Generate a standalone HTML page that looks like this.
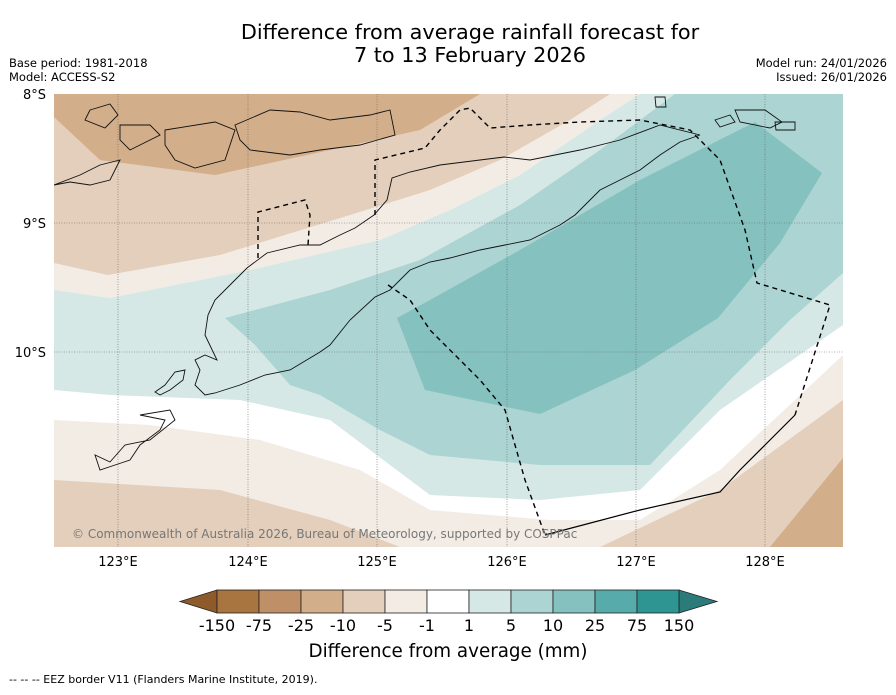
<!DOCTYPE html>
<html><head><meta charset="utf-8"><style>
body{margin:0;background:#fff;font-family:"Liberation Sans","DejaVu Sans",sans-serif;}
svg text{font-family:"DejaVu Sans","Liberation Sans",sans-serif;}
</style></head><body>
<svg width="896" height="690" viewBox="0 0 896 690" xmlns="http://www.w3.org/2000/svg">
<text x="470" y="39" font-size="20.8" text-anchor="middle">Difference from average rainfall forecast for</text>
<text x="470" y="62" font-size="20.8" text-anchor="middle">7 to 13 February 2026</text>
<text x="9" y="67" font-size="11.5">Base period: 1981-2018</text>
<text x="9" y="81" font-size="11.5">Model: ACCESS-S2</text>
<text x="887" y="67" font-size="11.5" text-anchor="end">Model run: 24/01/2026</text>
<text x="887" y="81" font-size="11.5" text-anchor="end">Issued: 26/01/2026</text>
<defs><clipPath id="mc"><rect x="54" y="94" width="789" height="453"/></clipPath></defs>
<g clip-path="url(#mc)">
<rect x="54" y="94" width="789" height="453" fill="#fff"/>
<g stroke="none">
<polygon fill="#f3ece5" points="0,0 900,0 900,94 640,94 600,120 520,175 450,210 380,240 250,270 110,298 54,290 0,290"/>
<polygon fill="#e3cfbb" points="0,0 900,0 610,94 570,120 500,160 430,190 350,215 220,255 108,275 54,263 0,263"/>
<polygon fill="#e3cfbb" points="0,0 900,0 550,94 470,130 380,165 250,200 105,228 54,200 0,200"/>
<polygon fill="#d2ae8a" points="0,0 900,0 480,94 420,130 330,150 215,175 100,160 54,117 0,117"/>
<polygon fill="#d5e8e6" points="54,290 110,298 250,270 380,240 450,210 520,175 600,120 640,94 900,94 900,320 843,325 720,410 640,490 540,500 430,495 330,420 240,400 110,395 54,390"/>
<polygon fill="#abd4d3" points="225,318 330,290 420,260 520,205 600,150 675,94 900,94 900,273 843,273 790,320 730,380 650,465 540,465 430,455 380,430 320,395 290,385 255,345"/>
<polygon fill="#84c1bf" points="397,318 430,300 520,250 640,180 755,122 822,173 780,243 718,318 635,370 540,414 425,390"/>
<polygon fill="#f3ece5" points="0,420 54,420 150,425 260,440 360,470 430,510 550,520 640,520 720,470 843,355 900,355 900,700 0,700"/>
<polygon fill="#e3cfbb" points="0,480 54,480 220,490 330,520 400,547 600,547 720,490 843,400 900,400 900,700 0,700"/>
<polygon fill="#d2ae8a" points="770,547 843,458 900,458 900,700 770,700"/>
</g>
<g stroke="#666" stroke-width="0.6" stroke-dasharray="1,1.5" fill="none">
<line x1="118" y1="94" x2="118" y2="547"/><line x1="248" y1="94" x2="248" y2="547"/><line x1="377" y1="94" x2="377" y2="547"/><line x1="507" y1="94" x2="507" y2="547"/><line x1="636" y1="94" x2="636" y2="547"/><line x1="765" y1="94" x2="765" y2="547"/>
<line x1="54" y1="223" x2="843" y2="223"/><line x1="54" y1="352" x2="843" y2="352"/>
</g>
<g stroke="#111" stroke-width="0.9" fill="none">
<path d="M700,135 L680,142 660,155 640,170 620,180 600,190 575,215 560,225 530,240 505,245 480,250 450,258 430,262 410,270 390,290 375,297 350,320 330,345 320,352 290,370 265,375 240,385 215,393 205,395 195,385 200,370 195,360 205,355 217,360 205,335 208,315 215,300 230,285 247,268 267,253 300,245 320,245 340,235 355,228 374,215 387,200 392,178 410,172 440,165 480,160 504,157 530,160 580,150 620,140 660,125 700,135"/>
<path d="M90,110 L110,104 118,115 105,128 85,120Z M120,125 L150,125 160,135 130,150 120,140Z M165,130 L215,122 235,130 225,160 195,168 175,160 165,145Z M235,125 L270,110 300,112 330,120 370,115 390,110 395,135 360,145 320,150 290,155 250,150 240,140Z M54,185 L80,175 100,165 120,160 110,180 90,185 70,182 54,185"/>
<path d="M655,97 L665,97 666,107 656,107Z M715,120 L730,115 735,122 720,127Z M735,110 L765,110 782,122 770,128 740,122Z M775,122 L795,122 795,130 776,130Z"/>
<path d="M155,392 L165,385 175,372 185,370 183,380 170,390 160,395Z M140,415 L170,410 175,420 150,440 125,445 110,462 95,455 100,470 115,465 130,460 140,445 160,430 165,420Z"/>
</g>
<g stroke="#000" stroke-width="1.4" fill="none" stroke-dasharray="5,4">
<path d="M375,215 L375,160 425,148 440,130 460,110 470,108 490,128 530,125 580,122 640,120 690,130 720,160 745,230 757,283 830,305 795,415"/>
<path d="M258,258 L258,212 305,200 310,215 308,245"/>
<path d="M388,285 L410,300 430,330 480,380 505,410 525,480 545,535"/>
</g>
<path d="M545,535 L640,510 720,492 740,470 765,445 795,415" stroke="#000" stroke-width="1.2" fill="none"/>
<text x="72" y="538" font-size="12" fill="#777">© Commonwealth of Australia 2026, Bureau of Meteorology, supported by COSPPac</text>
</g>
<g font-size="13">
<text x="118" y="566" text-anchor="middle">123°E</text><text x="248" y="566" text-anchor="middle">124°E</text><text x="377" y="566" text-anchor="middle">125°E</text><text x="507" y="566" text-anchor="middle">126°E</text><text x="636" y="566" text-anchor="middle">127°E</text><text x="765" y="566" text-anchor="middle">128°E</text>
<text x="46" y="99" text-anchor="end">8°S</text><text x="46" y="228" text-anchor="end">9°S</text><text x="46" y="357" text-anchor="end">10°S</text>
</g>
<g stroke="#222" stroke-width="0.8">
<polygon points="217,590 217,613 180,601.5" fill="#8e5a2a"/>
<polygon points="679,590 679,613 717,601.5" fill="#2a7b79"/>
<rect x="217" y="590" width="42" height="23" fill="#a87540"/>
<rect x="259" y="590" width="42" height="23" fill="#bf9067"/>
<rect x="301" y="590" width="42" height="23" fill="#d2ae8a"/>
<rect x="343" y="590" width="42" height="23" fill="#e3cfbb"/>
<rect x="385" y="590" width="42" height="23" fill="#f3ece5"/>
<rect x="427" y="590" width="42" height="23" fill="#ffffff"/>
<rect x="469" y="590" width="42" height="23" fill="#d5e8e6"/>
<rect x="511" y="590" width="42" height="23" fill="#abd4d3"/>
<rect x="553" y="590" width="42" height="23" fill="#84c1bf"/>
<rect x="595" y="590" width="42" height="23" fill="#57abaa"/>
<rect x="637" y="590" width="42" height="23" fill="#2e9593"/>
</g>
<g font-size="16" text-anchor="middle">
<text x="217" y="631">-150</text><text x="259" y="631">-75</text><text x="301" y="631">-25</text><text x="343" y="631">-10</text><text x="385" y="631">-5</text><text x="427" y="631">-1</text><text x="469" y="631">1</text><text x="511" y="631">5</text><text x="553" y="631">10</text><text x="595" y="631">25</text><text x="637" y="631">75</text><text x="679" y="631">150</text>
</g>
<text x="448" y="657" font-size="18.3" text-anchor="middle">Difference from average (mm)</text>
<text x="9" y="683" font-size="11">--  --  -- EEZ border V11 (Flanders Marine Institute, 2019).</text>
</svg>
</body></html>
